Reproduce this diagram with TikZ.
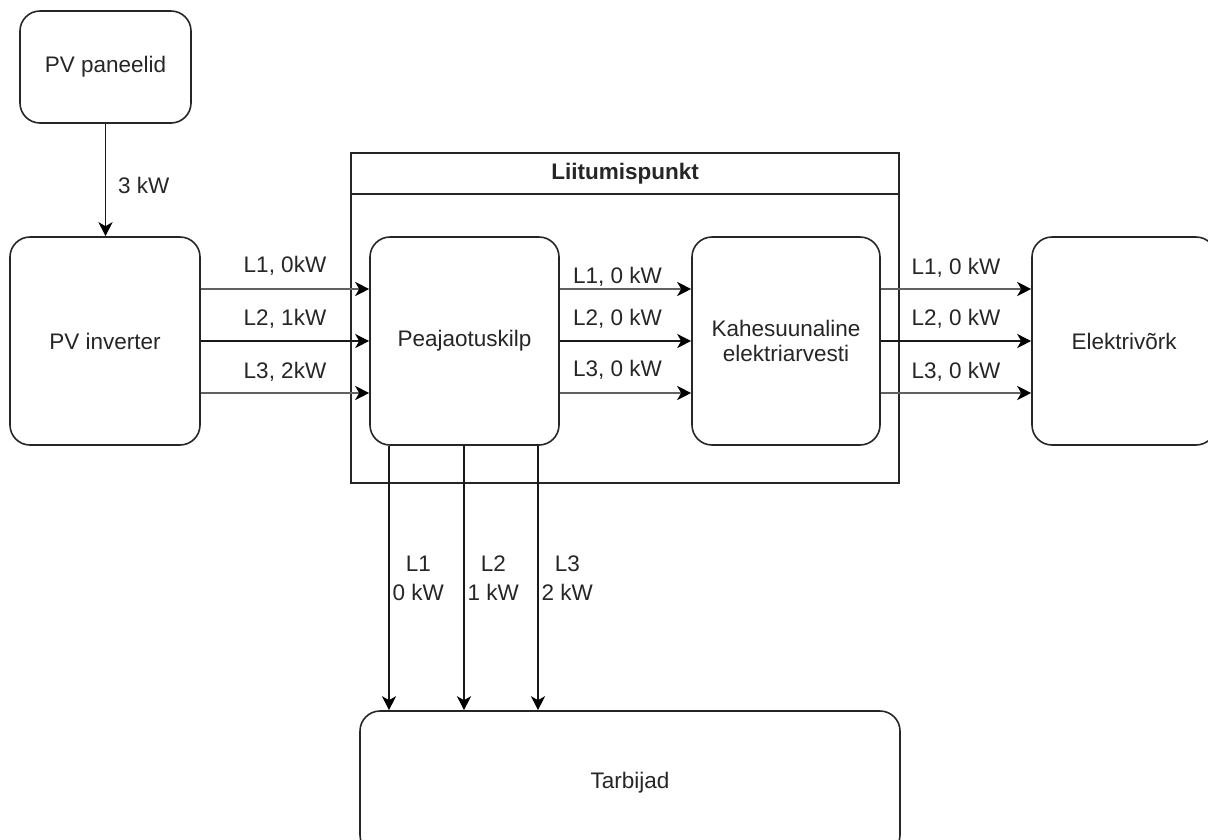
\documentclass[tikz,border=0pt]{standalone}
\usepackage{fontspec}
\setmainfont{Liberation Sans}
\usepackage{tikz}
\usetikzlibrary{arrows.meta}

\newcommand{\suurkiri}{\fontsize{22.5}{29}\selectfont}

\tikzset{
  blokk/.style={draw=black!85, line width=1.6pt, rounded corners=20pt, fill=white, align=center, inner sep=0pt, text=black!85},
  noolmust/.style={-{Stealth[length=14pt,width=14pt,inset=4pt,color=black]}, line width=1.4pt, draw=black!90},
  hall/.style={noolmust, draw=black!62, line width=2.6pt},
  silt/.style={inner sep=1pt, text=black!85},
}

\begin{document}
\begin{tikzpicture}[x=1pt,y=-1pt,font=\suurkiri]
\useasboundingbox (0,0) rectangle (1208,839);
% Liitumispunkt
\node[draw=black!85, line width=1.6pt, minimum width=548pt, minimum height=330pt] (lp) at (625,318) {};
\node[draw=black!85, line width=1.6pt, minimum width=548pt, minimum height=41pt, anchor=north, font=\suurkiri\bfseries, text=black!85] (lptiitel) at (lp.north) {Liitumispunkt};
% plokid
\node[blokk, minimum width=171pt, minimum height=112pt] (pan) at (105.5,67) {PV paneelid};
\node[blokk, minimum width=190pt, minimum height=208pt] (inv) at (105,341) {PV inverter};
\node[blokk, minimum width=189pt, minimum height=208pt] (pea) at (464.5,341) {Peajaotuskilp};
\node[blokk, minimum width=188pt, minimum height=208pt] (kah) at (786,341) {Kahesuunaline\\[-4pt]elektriarvesti};
\node[blokk, minimum width=184pt, minimum height=208pt] (ele) at (1124,341) {Elektrivõrk};
\node[blokk, minimum width=540pt, minimum height=144pt] (tar) at (630,783) {Tarbijad};
% nooled
\draw[noolmust] (pan.south) -- (pan.south |- inv.north) node[midway, silt, anchor=west, xshift=11pt, yshift=-5pt] {3 kW};
\foreach \dy/\st/\lbl/\ly in {52/hall/{L1, 0kW}/23, 0/noolmust/{L2, 1kW}/22, -52/hall/{L3, 2kW}/21}{
  \draw[\st] ([yshift=\dy pt]inv.east) -- ([yshift=\dy pt]pea.west) node[midway, silt, yshift=\ly pt] {\lbl};
}
\foreach \dy/\st/\lbl/\ly in {0/noolmust/{L2, 0 kW}/22, -52/hall/{L3, 0 kW}/23}{
  \draw[\st] ([yshift=\dy pt]pea.east) -- ([yshift=\dy pt]kah.west) node[midway, silt, xshift=-8pt, yshift=\ly pt] {\lbl};
}
\draw[hall] ([yshift=52pt]pea.east) -- ([yshift=52pt]kah.west) node[midway, silt, fill=white, xshift=-8pt, yshift=12pt] {L1, 0 kW};
\foreach \dy/\st/\lbl/\ly in {52/hall/{L1, 0 kW}/21, 0/noolmust/{L2, 0 kW}/22, -52/hall/{L3, 0 kW}/21}{
  \draw[\st] ([yshift=\dy pt]kah.east) -- ([yshift=\dy pt]ele.west) node[midway, silt, yshift=\ly pt] {\lbl};
}
\foreach \dx/\a/\b in {-75.5/L1/0 kW, -0.5/L2/1 kW, 73.5/L3/2 kW}{
  \draw[noolmust] ([xshift=\dx pt]pea.south) -- ([xshift=\dx pt]pea.south |- tar.north) node[midway, silt, anchor=west, inner sep=0pt, xshift=3pt, align=center] {\a\\\b};
}
\end{tikzpicture}
\end{document}
